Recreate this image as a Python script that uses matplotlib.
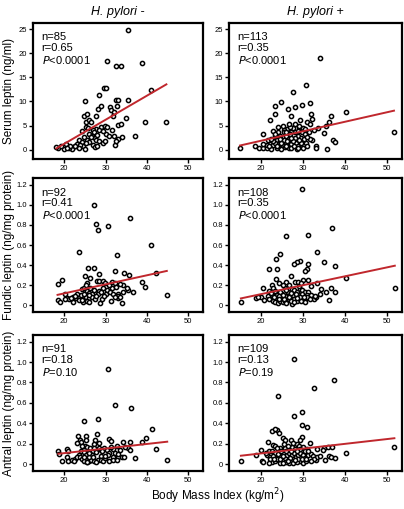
import numpy as np
import matplotlib
matplotlib.use("Agg")
import matplotlib.pyplot as plt

plt.rcParams['font.family'] = ['Liberation Sans', 'DejaVu Sans']

# ---- data: (BMI, leptin) per panel ----
serum_neg_bmi = [35.5, 30.4, 32.5, 33.8, 38.9, 29.6, 30.1, 28.3, 41.1, 25.1, 32.5, 33.1, 35.5, 28.2, 28.8,
                 31.0, 31.4, 32.0, 32.8, 24.7, 25.5, 27.7, 31.9, 39.5, 44.7, 34.9, 25.3, 25.9, 26.6, 29.0,
                 29.9, 30.4, 33.0, 33.8, 27.7, 28.3, 26.9, 25.3, 25.8, 24.3, 37.0, 33.9, 30.1, 30.9, 32.0,
                 33.1, 26.1, 26.7, 27.4, 27.8, 28.5, 29.3, 29.8, 32.3, 26.9, 27.4, 23.5, 24.2, 24.5, 25.0,
                 22.6, 21.9, 21.1, 20.5, 20.0, 18.6, 18.1, 19.2, 23.2, 23.8, 25.4, 25.9, 26.4, 27.1, 24.8,
                 25.3, 28.0, 29.4, 31.5, 22.7, 21.5, 20.8, 23.7, 28.0, 32.5]
serum_neg_val = [24.9, 18.4, 17.3, 17.3, 18.0, 12.7, 12.7, 11.4, 12.3, 10.0, 10.4, 10.4, 10.2, 8.4, 9.0,
                 8.8, 8.3, 7.9, 9.0, 6.9, 7.3, 6.9, 7.0, 5.7, 5.7, 6.6, 5.7, 6.2, 5.7, 4.8,
                 5.0, 4.8, 5.2, 5.4, 4.3, 4.0, 4.1, 4.8, 4.4, 3.8, 2.9, 2.6, 3.2, 2.8, 2.8,
                 2.2, 3.3, 2.9, 2.5, 2.1, 1.7, 1.4, 1.7, 0.9, 1.0, 0.6, 2.1, 1.5, 0.8, 0.2,
                 0.7, 0.2, 0.3, 1.2, 0.1, 0.35, 0.55, 0.7, 1.2, 1.0, 2.1, 1.5, 2.6, 3.6, 2.6,
                 1.4, 3.1, 3.8, 4.0, 0.8, 0.7, 0.35, 0.4, 0.8, 1.7]

serum_pos_bmi = [34.0, 30.8, 27.6, 24.8, 23.3, 28.2, 29.8, 31.6, 26.4, 23.4, 31.9, 27.2, 36.6, 40.2, 22.3,
                 29.4, 32.2, 31.0, 31.7, 36.1, 35.5, 24.2, 26.7, 26.3, 25.6, 29.1, 30.0, 28.1, 27.2, 25.5,
                 22.8, 20.6, 29.7, 31.4, 35.0, 51.6, 23.4, 24.5, 26.1, 28.8, 30.6, 32.2, 37.2, 37.5, 21.7,
                 23.9, 26.6, 28.1, 29.5, 22.2, 23.0, 24.1, 25.2, 25.9, 27.2, 28.3, 29.4, 30.8, 33.0, 33.0,
                 18.6, 19.7, 20.5, 21.6, 15.1, 22.5, 23.8, 24.8, 26.6, 28.6, 30.0, 35.8, 23.3, 24.5, 25.5,
                 26.9, 27.7, 28.8, 27.7, 28.9, 30.9, 21.4, 24.1, 25.8, 27.2, 30.5, 25.3, 26.9, 29.2, 25.9,
                 22.8, 22.5, 24.8, 26.3, 28.0, 29.5, 20.6, 24.1, 23.3, 30.2, 31.6, 33.6, 24.5, 26.6, 28.1,
                 32.7, 23.8, 27.3, 29.1, 22.0, 26.1, 30.9, 28.8]
serum_pos_val = [19.0, 13.5, 11.9, 9.9, 9.0, 8.8, 9.3, 9.7, 8.4, 7.3, 7.3, 6.9, 7.0, 7.9, 6.1,
                 6.1, 6.4, 5.7, 5.4, 5.7, 5.0, 4.6, 4.5, 4.3, 4.1, 4.7, 4.5, 3.6, 3.6, 3.6,
                 3.8, 3.2, 3.6, 3.6, 3.5, 3.6, 2.8, 2.8, 2.9, 2.9, 3.2, 2.1, 2.1, 1.5, 2.1,
                 2.1, 2.2, 2.4, 2.4, 1.2, 1.0, 1.2, 1.0, 1.2, 1.1, 1.4, 1.0, 1.4, 0.7, 0.35,
                 0.7, 0.4, 0.3, 0.3, 0.3, 0.15, 0.3, 0.15, 0.3, 0.15, 0.3, 0.2, 1.4, 1.7, 2.1,
                 3.2, 4.4, 3.8, 1.7, 0.7, 0.7, 1.0, 0.7, 0.55, 0.35, 4.3, 5.0, 4.7, 5.0, 3.7,
                 1.7, 2.2, 1.4, 1.7, 0.7, 1.4, 1.2, 3.6, 3.2, 2.2, 2.2, 4.5, 2.3, 5.4, 5.4,
                 4.1, 0.7, 2.4, 1.9, 0.7, 0.7, 2.6, 0.35]

fundic_neg_bmi = [27.1, 36.0, 27.8, 30.5, 28.1, 41.0, 23.5, 32.7, 25.7, 27.2, 32.2, 34.4, 35.7, 42.2, 28.4,
                  25.1, 26.3, 27.9, 28.4, 29.5, 29.8, 31.6, 32.4, 19.4, 18.4, 38.7, 34.1, 33.5, 25.6, 24.3,
                  24.8, 25.6, 26.0, 30.3, 31.6, 32.5, 35.4, 35.1, 36.7, 39.5, 29.4, 28.4, 27.5, 26.8, 28.1,
                  30.0, 31.1, 31.9, 33.0, 34.1, 44.8, 20.3, 20.6, 21.1, 20.3, 22.1, 22.9, 23.7, 24.4, 25.2,
                  26.0, 26.7, 24.0, 24.9, 18.4, 18.9, 22.1, 23.5, 24.6, 25.4, 26.0, 27.5, 28.6, 29.2, 31.3,
                  32.9, 34.0, 32.9, 27.1, 23.2, 22.5, 26.3, 25.2, 28.9, 30.8, 33.5, 21.6, 32.2, 27.6, 29.7,
                  25.9, 24.4]
fundic_neg_val = [1.00, 0.87, 0.81, 0.79, 0.75, 0.60, 0.53, 0.50, 0.37, 0.37, 0.34, 0.32, 0.30, 0.32, 0.31,
                  0.29, 0.27, 0.24, 0.24, 0.24, 0.22, 0.23, 0.22, 0.25, 0.21, 0.23, 0.20, 0.21, 0.22, 0.16,
                  0.17, 0.14, 0.12, 0.15, 0.17, 0.18, 0.15, 0.17, 0.13, 0.18, 0.17, 0.14, 0.12, 0.11, 0.11,
                  0.11, 0.13, 0.11, 0.11, 0.13, 0.10, 0.11, 0.07, 0.06, 0.06, 0.08, 0.07, 0.07, 0.09, 0.08,
                  0.07, 0.08, 0.10, 0.11, 0.05, 0.03, 0.03, 0.05, 0.03, 0.04, 0.03, 0.06, 0.02, 0.06, 0.04,
                  0.07, 0.02, 0.09, 0.15, 0.11, 0.09, 0.17, 0.20, 0.13, 0.20, 0.08, 0.07, 0.08, 0.09, 0.09,
                  0.10, 0.05]

fundic_pos_bmi = [29.9, 36.9, 31.3, 26.0, 33.4, 24.6, 23.6, 29.3, 28.5, 27.9, 35.1, 31.2, 31.0, 30.4, 37.5,
                  22.0, 23.9, 27.1, 23.6, 30.1, 31.2, 40.3, 24.3, 26.0, 28.2, 28.8, 33.4, 51.8, 22.7, 20.6,
                  26.8, 25.7, 36.7, 34.2, 32.0, 35.4, 37.6, 23.0, 23.5, 22.0, 27.4, 28.0, 29.3, 29.9, 30.4,
                  31.3, 28.7, 26.5, 25.0, 23.9, 22.7, 21.7, 20.0, 18.9, 19.4, 15.3, 25.7, 27.0, 27.7, 28.8,
                  29.8, 30.9, 32.0, 32.6, 33.2, 36.2, 20.9, 22.0, 22.8, 23.5, 24.1, 24.6, 25.2, 25.8, 26.6,
                  27.4, 28.0, 28.7, 29.4, 30.4, 31.0, 26.1, 23.8, 24.9, 26.6, 29.3, 30.2, 28.3, 27.2, 26.1,
                  24.6, 29.0, 29.6, 25.4, 22.4, 23.1, 24.4, 25.5, 27.1, 27.9, 29.6, 30.6, 31.7, 32.8, 34.0,
                  25.2, 28.5, 24.3]
fundic_pos_val = [1.16, 0.77, 0.70, 0.69, 0.53, 0.51, 0.46, 0.44, 0.43, 0.41, 0.43, 0.41, 0.36, 0.34, 0.39,
                  0.36, 0.36, 0.29, 0.26, 0.25, 0.25, 0.27, 0.22, 0.23, 0.23, 0.23, 0.22, 0.17, 0.20, 0.17,
                  0.20, 0.17, 0.17, 0.16, 0.19, 0.13, 0.13, 0.17, 0.14, 0.14, 0.16, 0.15, 0.16, 0.15, 0.13,
                  0.13, 0.13, 0.13, 0.11, 0.10, 0.10, 0.09, 0.08, 0.07, 0.08, 0.03, 0.09, 0.10, 0.10, 0.10,
                  0.11, 0.10, 0.10, 0.06, 0.08, 0.05, 0.05, 0.06, 0.04, 0.03, 0.02, 0.04, 0.03, 0.04, 0.06,
                  0.01, 0.06, 0.04, 0.06, 0.06, 0.08, 0.02, 0.07, 0.08, 0.08, 0.08, 0.08, 0.11, 0.12, 0.15,
                  0.13, 0.19, 0.22, 0.20, 0.12, 0.08, 0.09, 0.06, 0.04, 0.03, 0.04, 0.03, 0.06, 0.09, 0.11,
                  0.10, 0.07, 0.06]

antral_neg_bmi = [30.6, 32.4, 36.2, 28.1, 24.7, 41.2, 23.3, 25.2, 27.9, 39.7, 30.8, 23.8, 25.2, 27.5, 31.3,
                  24.0, 27.1, 34.1, 35.9, 38.7, 28.3, 32.7, 42.2, 20.8, 21.0, 18.6, 18.7, 25.1, 25.6, 26.3,
                  28.4, 28.9, 29.7, 30.3, 31.9, 33.5, 35.4, 35.9, 24.1, 24.8, 26.0, 27.0, 27.8, 30.8, 32.4,
                  23.5, 25.2, 26.8, 29.0, 30.6, 31.7, 32.9, 34.0, 34.4, 37.1, 44.9, 20.8, 21.0, 19.5, 21.9,
                  22.7, 23.2, 23.8, 24.4, 24.9, 25.4, 25.9, 26.4, 27.3, 28.1, 29.0, 29.5, 30.9, 31.7, 25.9,
                  24.8, 22.4, 26.9, 29.8, 33.0, 25.6, 27.6, 25.9, 24.3, 29.2, 31.4, 27.1, 34.6, 23.0, 29.8,
                  32.8]
antral_neg_val = [0.93, 0.58, 0.55, 0.44, 0.42, 0.34, 0.28, 0.28, 0.30, 0.26, 0.25, 0.24, 0.24, 0.24, 0.23,
                  0.22, 0.20, 0.22, 0.22, 0.22, 0.21, 0.18, 0.15, 0.15, 0.13, 0.13, 0.10, 0.18, 0.17, 0.16,
                  0.16, 0.14, 0.16, 0.14, 0.15, 0.14, 0.16, 0.14, 0.13, 0.12, 0.12, 0.13, 0.12, 0.11, 0.11,
                  0.09, 0.09, 0.09, 0.08, 0.09, 0.07, 0.07, 0.07, 0.07, 0.06, 0.04, 0.07, 0.03, 0.03, 0.04,
                  0.05, 0.07, 0.07, 0.05, 0.03, 0.02, 0.03, 0.04, 0.03, 0.04, 0.04, 0.03, 0.03, 0.04, 0.07,
                  0.07, 0.03, 0.07, 0.06, 0.10, 0.02, 0.02, 0.11, 0.18, 0.13, 0.17, 0.16, 0.17, 0.21, 0.08,
                  0.04]

antral_pos_bmi = [27.8, 32.7, 37.4, 24.2, 29.9, 27.8, 29.7, 31.0, 23.9, 22.7, 23.5, 24.4, 29.7, 29.4, 25.2,
                  25.8, 27.1, 31.8, 21.7, 23.0, 23.5, 20.0, 21.9, 22.7, 24.5, 25.8, 26.7, 28.5, 29.0, 30.0,
                  31.0, 33.3, 35.1, 36.0, 36.8, 51.7, 40.2, 18.9, 15.3, 20.2, 20.6, 21.6, 22.2, 23.0, 23.8,
                  22.7, 23.3, 24.5, 25.3, 25.8, 26.3, 26.7, 27.4, 27.8, 28.3, 28.8, 29.3, 30.0, 30.5, 29.4,
                  30.0, 30.8, 31.3, 31.9, 32.4, 33.2, 33.3, 35.2, 36.2, 36.6, 37.6, 24.9, 24.2, 27.2, 26.6,
                  27.7, 28.5, 26.0, 25.2, 23.9, 22.2, 21.3, 26.0, 27.5, 28.2, 30.4, 24.9, 23.8, 25.6, 26.4,
                  27.7, 28.8, 29.8, 26.9, 24.5, 23.1, 29.3, 31.3, 32.7, 34.7, 34.0, 26.4, 28.2, 30.8, 25.3,
                  28.6, 27.2, 22.0, 31.9]
antral_pos_val = [1.03, 0.75, 0.82, 0.67, 0.51, 0.47, 0.38, 0.36, 0.33, 0.32, 0.34, 0.31, 0.27, 0.24, 0.26,
                  0.24, 0.24, 0.21, 0.22, 0.19, 0.18, 0.14, 0.13, 0.13, 0.16, 0.16, 0.15, 0.20, 0.18, 0.17,
                  0.15, 0.15, 0.16, 0.17, 0.17, 0.17, 0.11, 0.09, 0.03, 0.03, 0.02, 0.09, 0.07, 0.08, 0.06,
                  0.02, 0.03, 0.01, 0.04, 0.06, 0.09, 0.11, 0.09, 0.11, 0.07, 0.09, 0.11, 0.09, 0.06, 0.03,
                  0.01, 0.03, 0.09, 0.10, 0.08, 0.04, 0.07, 0.04, 0.08, 0.07, 0.06, 0.08, 0.10, 0.03, 0.01,
                  0.01, 0.02, 0.02, 0.01, 0.05, 0.05, 0.11, 0.13, 0.17, 0.15, 0.13, 0.13, 0.16, 0.20, 0.18,
                  0.21, 0.05, 0.05, 0.06, 0.05, 0.05, 0.15, 0.13, 0.05, 0.14, 0.08, 0.03, 0.04, 0.05, 0.08,
                  0.13, 0.13, 0.01, 0.03]

# regression lines (slope, intercept)
fits = [(0.50, -8.8), (0.198, -2.13),
        (0.0090, -0.060), (0.0089, -0.066),
        (0.0045, 0.018), (0.0047, 0.011)]

stats = [("85", "0.65", "<0.0001"), ("113", "0.35", "<0.0001"),
         ("92", "0.41", "<0.0001"), ("108", "0.35", "<0.0001"),
         ("91", "0.18", "=0.10"), ("109", "0.13", "=0.19")]

col_titles = ["H. pylori -", "H. pylori +"]
row_labels = ["Serum leptin (ng/ml)", "Fundic leptin (ng/mg protein)",
              "Antral leptin (ng/mg protein)"]
x_ticks = [20, 30, 40, 50]
serum_ticks = [0, 5, 10, 15, 20, 25]
tissue_ticks = [0, 0.2, 0.4, 0.6, 0.8, 1.0, 1.2]
tissue_tick_labels = ["0", "0.2", "0.4", "0.6", "0.8", "1.0", "1.2"]

panels = [(serum_neg_bmi, serum_neg_val), (serum_pos_bmi, serum_pos_val),
          (fundic_neg_bmi, fundic_neg_val), (fundic_pos_bmi, fundic_pos_val),
          (antral_neg_bmi, antral_neg_val), (antral_pos_bmi, antral_pos_val)]

fig = plt.figure(figsize=(4.04, 5.09), dpi=100)

col_x = [(0.082, 0.420), (0.567, 0.428)]
row_y = [(0.688, 0.267), (0.387, 0.263), (0.075, 0.267)]

line_color = "#c0272d"

for i, (bx, by) in enumerate(panels):
    r, c = divmod(i, 2)
    ax = fig.add_axes([col_x[c][0], row_y[r][0], col_x[c][1], row_y[r][1]])
    ax.plot(bx, by, "o", ms=3.0, mfc="white", mec="black", mew=1.1, ls="none", zorder=3)

    slope, icpt = fits[i]
    xs = np.array([min(bx), max(bx)])
    ax.plot(xs, slope * xs + icpt, color=line_color, lw=1.4, zorder=4)

    ax.set_xlim(12.5, 53.5)
    ax.set_xticks(x_ticks)
    if r == 0:
        ax.set_ylim(-1.9, 26.3)
        ax.set_yticks(serum_ticks)
    else:
        ax.set_ylim(-0.065, 1.265)
        ax.set_yticks(tissue_ticks)
        ax.set_yticklabels(tissue_tick_labels)

    for s in ax.spines.values():
        s.set_linewidth(1.6)
    ax.tick_params(direction="out", length=3, width=1, labelsize=5.5, pad=1.5)

    n, rv, pv = stats[i]
    ax.text(0.05, 0.93, "n=" + n, transform=ax.transAxes, fontsize=8, va="top")
    ax.text(0.05, 0.85, "r=" + rv, transform=ax.transAxes, fontsize=8, va="top")
    ax.text(0.05, 0.77, r"$\it{P}$" + pv, transform=ax.transAxes, fontsize=8, va="top")

    if r == 0:
        ax.set_title(col_titles[c], fontsize=9, style="italic", pad=6)
    if c == 0:
        ax.set_ylabel(row_labels[r], fontsize=8.5)
        ax.yaxis.set_label_coords(-0.105, 0.5)

fig.text(0.54, 0.006, r"Body Mass Index (kg/m$^2$)", fontsize=8.5, ha="center", va="bottom")

fig.savefig("out.png", dpi=100)
